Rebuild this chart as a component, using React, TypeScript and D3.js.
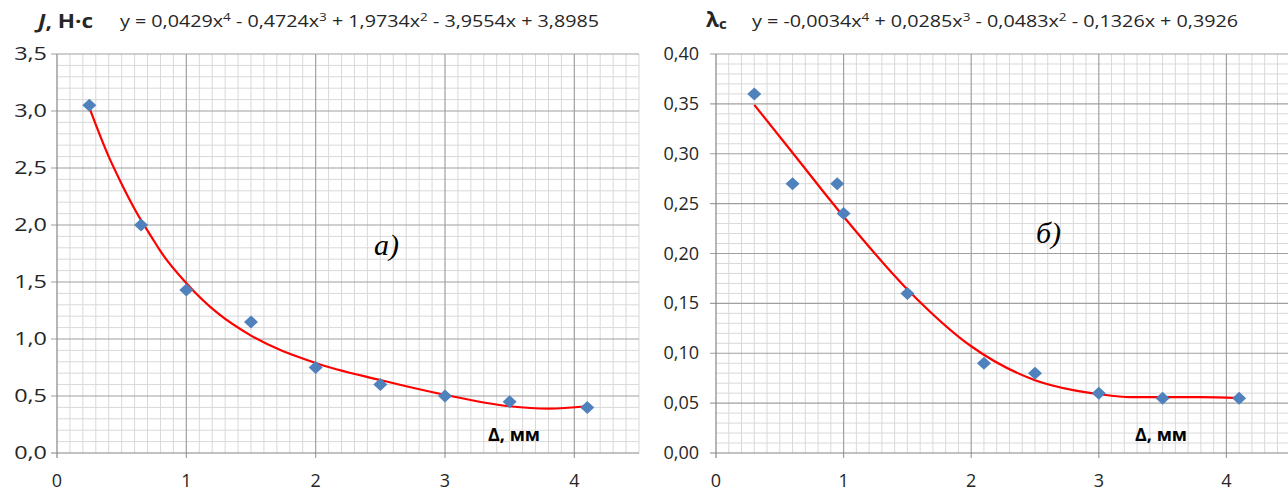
import React from 'react';
import * as d3 from 'd3';

// ---- data ----
const leftX = [0.25, 0.65, 1.0, 1.5, 2.0, 2.5, 3.0, 3.5, 4.1];
const leftY = [3.05, 2.0, 1.43, 1.15, 0.75, 0.6, 0.5, 0.45, 0.4];
const rightX = [0.3, 0.6, 0.95, 1.0, 1.5, 2.1, 2.5, 3.0, 3.5, 4.1];
const rightY = [0.36, 0.27, 0.27, 0.24, 0.16, 0.09, 0.08, 0.06, 0.055, 0.055];
// trend-line points
const leftTrendX = [0.25, 0.4, 0.5, 0.6, 0.75, 0.8, 1.0, 1.25, 1.5, 2.0, 2.5, 3.0, 3.5, 3.8, 4.1];
const leftTrendY = [3.03, 2.6, 2.36, 2.14, 1.86, 1.77, 1.49, 1.22, 1.03, 0.79, 0.64, 0.51, 0.41, 0.39, 0.41];
const rightTrendX = [0.3, 0.6, 1.0, 1.5, 2.0, 2.5, 2.8, 3.0, 3.25, 3.5, 3.8, 4.1];
const rightTrendY = [0.349, 0.301, 0.237, 0.164, 0.107, 0.073, 0.063, 0.059, 0.056, 0.056, 0.056, 0.055];
// trend-line equations as printed (x^4 ... x^0)
const leftCoefs = [0.0429, -0.4724, 1.9734, -3.9554, 3.8985];
const rightCoefs = [-0.0034, 0.0285, -0.0483, -0.1326, 0.3926];
const xTicks = [0, 1, 2, 3, 4];
const xTickLabels = ['0', '1', '2', '3', '4'];
const leftYTicks = [0, 0.5, 1, 1.5, 2, 2.5, 3, 3.5];
const leftYTickLabels = ['0,0', '0,5', '1,0', '1,5', '2,0', '2,5', '3,0', '3,5'];
const rightYTicks = [0, 0.05, 0.1, 0.15, 0.2, 0.25, 0.3, 0.35, 0.4];
const rightYTickLabels = ['0,00', '0,05', '0,10', '0,15', '0,20', '0,25', '0,30', '0,35', '0,40'];

const FONT = "'Open Sans', sans-serif";
const MAJOR = '#a0a0a0';
const MINOR = '#d9d9d9';
const AXIS = '#868686';
const TXT = '#262626';

function fmt(v: number) {
  return String(v).replace('.', ',');
}

function Equation({ x, y, coefs, length }: { x: number; y: number; coefs: number[]; length: number }) {
  const n = coefs.length - 1;
  const parts: React.ReactNode[] = [<tspan key="y">y = </tspan>];
  let prevSup = false;
  coefs.forEach((c, i) => {
    const p = n - i;
    let s = '';
    if (i === 0) s = (c < 0 ? '-' : '') + fmt(Math.abs(c));
    else s = (c < 0 ? ' - ' : ' + ') + fmt(Math.abs(c));
    if (p >= 1) s += 'x';
    parts.push(
      <tspan key={'t' + i} dy={prevSup ? 6 : 0}>
        {s}
      </tspan>
    );
    prevSup = false;
    if (p >= 2) {
      parts.push(
        <tspan key={'s' + i} fontSize={11} dy={-6}>
          {p}
        </tspan>
      );
      prevSup = true;
    }
  });
  return (
    <text x={x} y={y} fontFamily={FONT} fontSize={16} fill={TXT} textLength={length} lengthAdjust="spacingAndGlyphs">
      {parts}
    </text>
  );
}

type PanelProps = {
  xs: number[];
  ys: number[];
  tx: number[];
  ty: number[];
  x0: number;
  x1: number;
  yMax: number;
  yTicks: number[];
  yLabels: string[];
  minorStep: number;
  labelX: number;
  labelSx: number;
};

function Panel({ xs, ys, tx, ty, x0, x1, yMax, yTicks, yLabels, minorStep, labelX, labelSx }: PanelProps) {
  const xScale = d3.scaleLinear().domain([0, 4.5]).range([x0, x1]);
  const yScale = d3.scaleLinear().domain([0, yMax]).range([453, 54]);
  const minorX = d3.range(1, 46).map((i) => i / 10).filter((v) => Math.abs(v - Math.round(v)) > 1e-6);
  const nMinorY = Math.round(yMax / minorStep);
  const majorEvery = Math.round(yTicks[1] / minorStep);
  const minorY = d3.range(1, nMinorY).filter((i) => i % majorEvery !== 0).map((i) => i * minorStep);
  const trend = tx.map((x, i) => [x, ty[i]] as [number, number]);
  const line = d3
    .line<[number, number]>()
    .x((d) => xScale(d[0]))
    .y((d) => yScale(d[1]))
    .curve(d3.curveMonotoneX);
  const top = yScale(yMax);
  const bottom = yScale(0);
  return (
    <g>
      {minorX.map((v) => (
        <line key={'mx' + v} x1={xScale(v)} x2={xScale(v)} y1={top} y2={bottom} stroke={MINOR} strokeWidth={1} />
      ))}
      {minorY.map((v) => (
        <line key={'my' + v} x1={x0} x2={x1} y1={yScale(v)} y2={yScale(v)} stroke={MINOR} strokeWidth={1} />
      ))}
      {xTicks.slice(1).map((v) => (
        <line key={'Mx' + v} x1={xScale(v)} x2={xScale(v)} y1={top} y2={bottom + 5} stroke={MAJOR} strokeWidth={1.2} />
      ))}
      {yTicks.slice(1).map((v) => (
        <line key={'My' + v} x1={x0 - 6} x2={x1} y1={yScale(v)} y2={yScale(v)} stroke={MAJOR} strokeWidth={1.2} />
      ))}
      <line x1={x0} x2={x0} y1={top} y2={bottom + 5} stroke={AXIS} strokeWidth={1.2} />
      <line x1={x0 - 6} x2={x1} y1={bottom} y2={bottom} stroke={AXIS} strokeWidth={1.2} />
      {yTicks.map((v, i) => (
        <text
          key={'yl' + v}
          transform={`translate(${labelX},${yScale(v) + 6}) scale(${labelSx},1)`}
          textAnchor="end"
          fontFamily={FONT}
          fontSize={18}
          fill={TXT}
        >
          {yLabels[i]}
        </text>
      ))}
      {xTicks.map((v, i) => (
        <text key={'xl' + v} x={xScale(v)} y={487} textAnchor="middle" fontFamily={FONT} fontSize={18} fill={TXT}>
          {xTickLabels[i]}
        </text>
      ))}
      <path d={line(trend) || ''} fill="none" stroke="#ff0000" strokeWidth={2.2} />
      {xs.map((x, i) => {
        const cx = xScale(x);
        const cy = yScale(ys[i]);
        return (
          <path
            key={'pt' + i}
            d={`M${cx},${cy - 6.5}L${cx + 7},${cy}L${cx},${cy + 6.5}L${cx - 7},${cy}Z`}
            fill="#4f81bd"
          />
        );
      })}
    </g>
  );
}

export default function App() {
  return (
    <svg
      width={1288}
      height={493}
      style={{ position: 'absolute', left: 0, top: 0, background: '#fff' }}
      xmlns="http://www.w3.org/2000/svg"
    >
      <rect width={1288} height={493} fill="#fff" />
      <Panel
        xs={leftX}
        ys={leftY}
        tx={leftTrendX}
        ty={leftTrendY}
        x0={57}
        x1={639}
        yMax={3.5}
        yTicks={leftYTicks}
        yLabels={leftYTickLabels}
        minorStep={0.1}
        labelX={47}
        labelSx={1.3}
      />
      <Panel
        xs={rightX}
        ys={rightY}
        tx={rightTrendX}
        ty={rightTrendY}
        x0={716}
        x1={716 + 4.5 * 127.6}
        yMax={0.4}
        yTicks={rightYTicks}
        yLabels={rightYTickLabels}
        minorStep={0.01}
        labelX={699}
        labelSx={1}
      />
      {/* titles */}
      <text x={38} y={28} fontFamily={FONT} fontSize={20} fontWeight="bold" fill={TXT} textLength={55} lengthAdjust="spacingAndGlyphs">
        <tspan fontStyle="italic">J</tspan>
        <tspan>, Н·с</tspan>
      </text>
      <Equation x={120} y={27} coefs={leftCoefs} length={479} />
      <text x={706} y={27} fontFamily={FONT} fontSize={21} fontWeight="bold" fill={TXT}>
        <tspan>λ</tspan>
        <tspan fontSize={15} dy={2}>c</tspan>
      </text>
      <Equation x={752} y={27} coefs={rightCoefs} length={486} />
      {/* panel labels */}
      <text x={374} y={255} fontFamily="'Liberation Serif', serif" fontStyle="italic" fontSize={30} fill="#000">
        а)
      </text>
      <text x={1036} y={243} fontFamily="'Liberation Serif', serif" fontStyle="italic" fontSize={30} fill="#000">
        б)
      </text>
      <text x={488} y={441} fontFamily={FONT} fontSize={18} fontWeight="bold" fill="#000">
        Δ, мм
      </text>
      <text x={1135} y={441} fontFamily={FONT} fontSize={18} fontWeight="bold" fill="#000">
        Δ, мм
      </text>
    </svg>
  );
}
